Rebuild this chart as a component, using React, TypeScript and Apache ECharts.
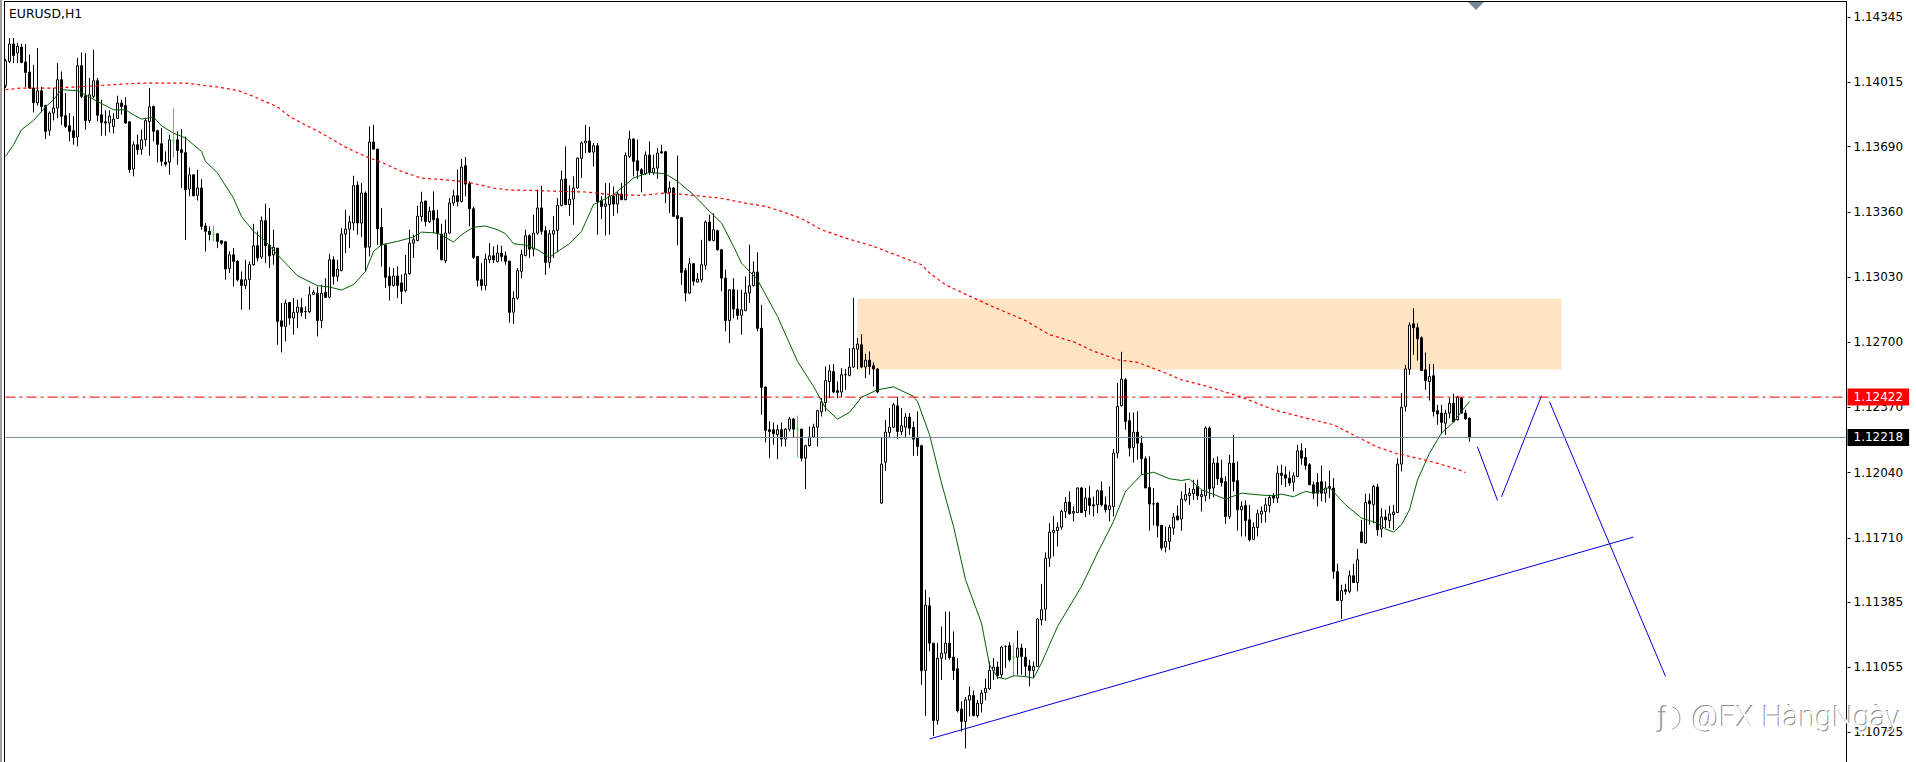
import React, { useEffect, useRef } from "react";
import * as echarts from "echarts";

// Quotes are written in points above 1.00000, as [open, close, low, high].
const barsA = [[13998,14124,13986,14133],[14121,14209,14112,14239],[14209,14151,14112,14239],[14163,14197,14112,14214],[14193,14116,14112,14210],[14118,14065,13991,14209],[14067,13986,13981,14155],[13986,13912,13863,14104],[13912,13972,13897,14188],[13972,13893,13863,13991],[13897,13767,13728,13902],[13772,13859,13745,13868],[13859,13885,13822,13986],[13885,14028,13834,14112],[14028,13843,13800,14070],[13846,13792,13784,13961],[13795,13767,13716,13859],[13770,13736,13699,13843],[13738,14099,13691,14138],[14099,13944,13935,14166],[13947,13822,13775,14163],[13822,13952,13809,14037],[13944,14023,13935,14180],[14023,13848,13817,14037],[13851,13812,13745,13927],[13815,13809,13745,13873],[13809,13844,13762,13873],[13792,13829,13755,13859],[13832,13910,13829,13947],[13910,13893,13851,13927],[13897,13809,13805,13940],[13815,13573,13556,13817],[13576,13699,13539,13716],[13699,13674,13649,13750],[13676,13724,13649,13775],[13724,13821,13691,13834],[13817,13891,13644,13986],[13893,13767,13716,13897],[13770,13701,13610,13775],[13704,13615,13593,13784],[13611,13601,13589,13665],[13611,13724,13547,13750],[13719,13719,13635,13881],[13724,13670,13598,13767],[13674,13660,13480,13778],[13659,13471,13218,13741]];
const barsB = [[13475,13547,13438,13584],[13547,13441,13438,13547],[13443,13480,13417,13573],[13480,13286,13269,13525],[13288,13261,13159,13303],[13262,13245,13215,13286],[13244,13244,13210,13289],[13249,13210,13176,13249],[13213,13201,13193,13215],[13208,13070,13016,13210],[13073,13142,13050,13159],[13142,13109,12982,13176],[13110,13016,13007,13114],[13016,12987,12864,13058],[12987,13016,12969,13117],[13016,13092,12864,13109],[13092,13188,13087,13299],[13188,13126,13109,13261],[13131,13315,13121,13336],[13315,13188,13100,13401],[13191,13137,13075,13379],[13142,13180,13092,13269],[13176,12805,12687,13176],[12808,12780,12648,12898],[12780,12898,12704,12915],[12901,12822,12788,12901],[12822,12851,12738,12923],[12851,12878,12771,12915],[12874,12851,12830,12923],[12854,12855,12817,12881],[12854,12940,12847,12982],[12942,12952,12940,12965],[12948,12810,12729,12982],[12810,12948,12771,12991],[12952,12927,12923,13024],[12928,13117,12923,13147],[13117,13033,12991,13134],[13033,13070,13007,13117],[13063,13247,13058,13277],[13247,13272,13151,13370],[13272,13308,13176,13340],[13303,13492,13266,13542],[13495,13303,13244,13514],[13303,13455,13232,13505],[13455,13180,13058,13463],[13181,13713,13134,13792]];
const barsC = [[13713,13677,13674,13800],[13677,13274,13193,13677],[13281,13193,13083,13379],[13193,13028,12974,13198],[13033,12987,12911,13080],[12987,13035,12982,13075],[13035,12987,12923,13083],[13000,12957,12894,13041],[12962,13045,12952,13142],[13046,13201,13041,13269],[13201,13218,13126,13244],[13215,13338,13210,13390],[13336,13409,13311,13461],[13414,13311,13286,13416],[13311,13363,13303,13387],[13365,13320,13252,13463],[13325,13249,13168,13370],[13247,13117,13114,13299],[13112,13252,13100,13320],[13252,13404,13249,13429],[13404,13441,13390,13471],[13441,13412,13387,13573],[13412,13586,13407,13627],[13593,13500,13438,13637],[13502,13375,13286,13514],[13375,13129,13121,13387],[13134,13013,12982,13134],[13016,12987,12962,13100],[12987,13121,12962,13148],[13117,13137,13100,13202],[13137,13117,13100,13185],[13109,13151,13104,13193],[13151,13134,13109,13188],[13137,13109,13092,13159],[13110,12851,12800,13112],[12852,12923,12792,12957],[12923,13062,12915,13075],[13058,13143,13024,13168],[13139,13239,13134,13269],[13239,13171,13126,13247],[13171,13252,13134,13345],[13252,13379,13244,13472],[13379,13261,13244,13492],[13264,13104,13041,13286],[13104,13249,13075,13269],[13247,13264,13126,13337]];
const barsD = [[13266,13392,13154,13429],[13392,13522,13387,13568],[13526,13396,13396,13691],[13396,13424,13340,13492],[13424,13480,13294,13539],[13480,13632,13475,13632],[13630,13708,13531,13716],[13708,13718,13657,13800],[13718,13662,13657,13789],[13662,13694,13590,13708],[13694,13412,13244,13708],[13416,13387,13323,13438],[13387,13399,13240,13505],[13396,13438,13244,13505],[13438,13399,13340,13488],[13399,13450,13353,13463],[13450,13421,13421,13505],[13421,13644,13418,13660],[13640,13728,13632,13770],[13728,13615,13539,13731],[13618,13569,13526,13725],[13573,13552,13458,13581],[13552,13647,13547,13665],[13647,13559,13547,13716],[13559,13581,13547,13649],[13581,13657,13526,13682],[13664,13657,13657,13699],[13664,13458,13404,13666],[13458,13480,13353,13514],[13480,13337,13333,13485],[13340,13326,13190,13644],[13330,13053,12991,13333],[13062,12949,12906,13075],[12949,13097,12945,13126],[13097,13008,12986,13100],[13004,13019,13003,13050],[13016,13092,13003,13218],[13089,13308,13067,13316],[13308,13215,13210,13345],[13215,13269,13210,13353],[13264,13168,13163,13269],[13168,13024,12957,13171],[13024,12810,12755,13067],[12810,12965,12695,12969],[12965,12868,12822,13024],[12868,12836,12814,12965]];
const barsE = [[12836,12864,12738,12965],[12861,12949,12856,13033],[12949,12986,12898,13193],[12987,13055,12982,13109],[13055,12770,12755,13154],[12771,12471,12333,12889],[12473,12254,12193,12476],[12257,12248,12113,12299],[12257,12237,12181,12294],[12232,12257,12108,12282],[12257,12210,12172,12294],[12210,12260,12172,12265],[12260,12311,12248,12321],[12311,12260,12215,12316],[12260,12260,12119,12328],[12260,12113,12097,12260],[12113,12176,11957,12181],[12176,12220,12172,12274],[12220,12270,12218,12287],[12270,12353,12172,12358],[12348,12397,12324,12417],[12395,12505,12350,12577],[12501,12555,12417,12586],[12552,12448,12442,12589],[12454,12446,12417,12501],[12448,12535,12422,12569],[12535,12536,12459,12564],[12532,12574,12527,12670],[12574,12669,12569,12923],[12665,12690,12564,12721],[12687,12574,12569,12741],[12574,12609,12518,12640],[12609,12577,12535,12653],[12581,12564,12476,12598],[12564,12448,12442,12569],[11886,12083,11882,12220],[12093,12245,12049,12307],[12243,12270,12220,12366],[12270,12383,12265,12392],[12378,12248,12209,12422],[12248,12277,12231,12366],[12270,12321,12215,12341],[12321,12265,12231,12341],[12269,12209,12125,12299],[12218,12172,12125,12350],[12176,11037,10966,12181]];
const barsF = [[11039,11369,10809,11447],[11366,11177,11135,11410],[11177,10786,10708,11177],[10786,11101,10764,11177],[11101,11126,10991,11261],[11126,11177,11093,11337],[11177,11104,11093,11337],[11106,11039,10991,11236],[11047,10835,10826,11101],[10843,10781,10730,10882],[10781,10890,10644,10904],[10889,10912,10806,10958],[10912,10811,10806,10938],[10811,10873,10801,10890],[10870,10924,10826,10941],[10927,10949,10887,10997],[10946,11039,10941,11084],[11039,11056,10991,11101],[11056,11013,10995,11084],[11017,11157,11000,11164],[11160,11161,11051,11165],[11164,11093,11084,11182],[11106,11106,11008,11177],[11106,11152,11017,11239],[11152,11110,11017,11174],[11106,11059,11008,11152],[11062,11039,10958,11093],[11039,11059,11000,11084],[11059,11299,11056,11304],[11295,11346,11266,11477],[11349,11607,11290,11636],[11607,11739,11562,11784],[11737,11747,11616,11821],[11747,11764,11666,11788],[11764,11843,11751,11852],[11843,11889,11810,11916],[11891,11832,11827,11945],[11835,11843,11793,11869],[11838,11962,11835,11965],[11962,11838,11835,11967],[11848,11911,11815,11962],[11911,11874,11827,11973],[11877,11872,11818,11919],[11877,11948,11835,11953],[11948,11877,11869,11995],[11877,11852,11838,11919]];
const barsG = [[11852,11872,11793,11970],[11869,12139,11818,12159],[12139,12375,12113,12493],[12378,12513,12375,12651],[12510,12299,12257,12518],[12302,12164,12122,12344],[12167,12245,12091,12344],[12245,12189,12105,12350],[12189,12110,12029,12226],[12110,11962,11962,12122],[11965,11881,11747,12122],[11881,11882,11773,11962],[11886,11771,11712,11889],[11773,11658,11646,11776],[11663,11692,11636,11767],[11692,11762,11649,11776],[11759,11815,11725,11835],[11821,11801,11798,11874],[11805,11906,11746,11945],[11902,11928,11894,11987],[11924,11936,11877,11962],[11933,11956,11902,12004],[11970,11923,11902,12004],[11919,11928,11843,11953],[11923,12265,11894,12274],[12265,11958,11906,12274],[11962,12088,11916,12113],[12088,12009,11978,12122],[12012,11990,11970,12105],[11994,11818,11781,12021],[11818,12088,11805,12130],[12088,11995,11945,12231],[11999,11852,11747,12096],[11852,11869,11717,11894],[11874,11798,11717,11899],[11801,11700,11692,11877],[11703,11764,11700,11788],[11762,11832,11717,11852],[11830,11845,11784,11869],[11843,11877,11788,11911],[11874,11914,11838,11928],[11923,11911,11886,11936],[11911,12037,11886,12075],[12037,12026,11978,12080],[12029,12012,11967,12071],[12012,11987,11973,12046]];
const barsH = [[11992,12024,11945,12041],[12021,12150,12017,12181],[12150,12113,12080,12189],[12117,12076,12054,12164],[12080,11978,11978,12088],[11978,11936,11906,11995],[11990,11936,11869,12037],[11994,11936,11894,12075],[11936,11962,11889,11995],[11970,11962,11911,12051],[11962,11540,11503,12012],[11540,11393,11393,11579],[11393,11442,11299,11472],[11447,11439,11422,11477],[11439,11518,11430,11545],[11518,11484,11481,11579],[11484,11599,11439,11654],[11740,11686,11683,11801],[11683,11889,11680,11933],[11897,11882,11776,11933],[11879,11970,11784,11978],[11967,11751,11720,11983],[11754,11815,11713,11860],[11815,11801,11759,11852],[11798,11831,11759,11872],[11828,11840,11750,11877],[11838,12083,11835,12113],[12083,12371,12046,12442],[12375,12565,12349,12585],[12563,12786,12535,12800],[12793,12773,12636,12872],[12773,12717,12607,12796],[12722,12557,12557,12729],[12560,12506,12459,12648],[12501,12526,12405,12590],[12530,12349,12324,12590],[12353,12337,12282,12383],[12341,12294,12236,12383],[12290,12341,12231,12358],[12341,12391,12315,12417],[12391,12297,12294,12439],[12307,12422,12304,12429],[12418,12341,12337,12422],[12341,12312,12307,12358],[12316,12218,12196,12317]];

const limeBars = [42, 52, 198, 252];

// [bar index, points]
const fastMa = [[0,13640],[2,13699],[4,13775],[7,13822],[10,13890],[12,13927],[14,13978],[18,13972],[20,13952],[24,13907],[27,13876],[30,13876],[32,13851],[34,13829],[37,13839],[39,13795],[42,13758],[45,13733],[49,13665],[50,13615],[53,13556],[57,13429],[59,13336],[62,13261],[65,13210],[68,13142],[70,13100],[73,13036],[78,12986],[81,12979],[84,12964],[87,12991],[90,13058],[92,13159],[94,13193],[98,13210],[102,13232],[104,13257],[108,13252],[112,13207],[114,13244],[117,13282],[120,13288],[123,13269],[125,13249],[127,13198],[130,13191],[133,13168],[136,13129],[138,13159],[141,13198],[144,13261],[147,13396],[152,13446],[154,13480],[157,13531],[161,13559],[165,13552],[168,13514],[172,13446],[176,13362],[179,13303],[182,13185],[184,13100],[188,13016],[193,12830],[198,12603],[202,12476],[205,12367],[208,12311],[211,12345],[214,12421],[218,12459],[222,12474],[227,12426],[228,12400],[231,12232],[234,11987],[237,11768],[240,11498],[244,11278],[246,11067],[248,11005],[250,10995],[252,11012],[255,11008],[257,11000],[259,11076],[263,11261],[269,11464],[273,11633],[277,11793],[280,11945],[284,12029],[287,12042],[291,12009],[294,12000],[296,12007],[299,11953],[305,11906],[309,11936],[314,11926],[317,11923],[319,11931],[322,11918],[325,11945],[327,11936],[331,11965],[335,11877],[339,11810],[343,11784],[345,11755],[347,11739],[349,11776],[351,11852],[353,12003],[356,12138],[359,12240],[362,12295],[364,12349],[366,12400]];
const slowMa = [[0,13978],[4,13986],[7,13986],[12,13986],[17,13991],[23,13998],[27,14003],[34,14011],[45,14011],[52,13994],[58,13974],[62,13944],[68,13890],[71,13843],[74,13809],[79,13758],[85,13687],[90,13640],[94,13610],[99,13564],[104,13530],[110,13522],[115,13510],[119,13495],[122,13480],[126,13470],[132,13468],[139,13463],[145,13460],[152,13446],[159,13443],[165,13455],[172,13443],[179,13428],[185,13404],[190,13387],[194,13362],[199,13326],[204,13269],[210,13227],[217,13185],[224,13131],[229,13092],[231,13050],[235,12991],[239,12952],[246,12887],[255,12809],[261,12738],[267,12702],[272,12655],[278,12611],[283,12598],[290,12544],[294,12510],[300,12479],[309,12422],[317,12358],[325,12316],[332,12282],[338,12220],[343,12169],[348,12135],[351,12122],[357,12093],[363,12057],[365,12040]];

const trendLine = [[231,10692],[407,11714]];
const legOne = [[368,12170],[373,11899]];
const legTwo = [[374,11917],[384,12429]];
const legThree = [[386,12399],[415,11009]];
const zone = { fromBar: 213, toBar: 389, high: 12920, low: 12562 };

const tickLabels = [1.14345, 1.14015, 1.1369, 1.1336, 1.1303, 1.127, 1.1237, 1.1204, 1.1171, 1.11385, 1.11055, 1.10725];
const levelAsk = 1.12422;
const levelBid = 1.12218;
const axisMin = 1.105755;
const axisMax = 1.144265;
const barSlots = 461;

const toPrice = (p: number) => +(1 + p / 100000).toFixed(5);
const pts = (a: number[][]) => a.map(([i, v]) => [i, toPrice(v)]);
const FONT = "DejaVu Sans";

export default function App() {
  const ref = useRef<HTMLDivElement>(null);
  useEffect(() => {
    const chart = echarts.init(ref.current!, undefined, { renderer: "svg" });
    const bars = [...barsA, ...barsB, ...barsC, ...barsD, ...barsE, ...barsF, ...barsG, ...barsH];
    const candleData = bars.map((b, i) => {
      const value = b.map(toPrice);
      return limeBars.includes(i)
        ? { value, itemStyle: { color: "#00ff00", color0: "#00ff00", borderColor: "#00ff00", borderColor0: "#00ff00" } }
        : { value };
    });
    const blue = (data: number[][]) => ({
      type: "line" as const,
      data: pts(data),
      showSymbol: false,
      silent: true,
      z: 4,
      lineStyle: { color: "#0000dd", width: 1 },
    });
    const level = (value: number, lineStyle: object, bg: string) => ({
      type: "line" as const,
      data: [[0, value], [barSlots - 1, value]],
      showSymbol: false,
      silent: true,
      clip: false,
      z: 5,
      lineStyle,
      endLabel: {
        show: true,
        formatter: value.toFixed(5),
        color: "#fff",
        backgroundColor: bg,
        fontFamily: FONT,
        fontSize: 12,
        distance: 2,
        padding: [3, 6, 2, 6],
      },
    });
    chart.setOption({
      animation: false,
      backgroundColor: "#fff",
      grid: { left: 3.5, width: 1844, top: 1, height: 761, show: false },
      title: {
        text: "EURUSD,H1",
        left: 9,
        top: 7,
        padding: 0,
        textStyle: { fontFamily: FONT, fontSize: 12.4, fontWeight: "normal", color: "#000" },
      },
      xAxis: {
        type: "category",
        data: Array.from({ length: barSlots }, (_, i) => i),
        boundaryGap: true,
        show: false,
      },
      yAxis: {
        type: "value",
        position: "right",
        min: axisMin,
        max: axisMax,
        splitLine: { show: false },
        axisLine: { show: false },
        axisTick: { show: true, length: 3, customValues: tickLabels, lineStyle: { color: "#000" } },
        axisLabel: {
          show: true,
          customValues: tickLabels,
          margin: 6,
          fontFamily: FONT,
          fontSize: 12,
          color: "#000",
          formatter: (v: number) => v.toFixed(5),
        },
      },
      series: [
        {
          type: "line",
          data: [],
          z: 1,
          silent: true,
          markArea: {
            silent: true,
            itemStyle: { color: "#ffe4c4", opacity: 1 },
            data: [[
              { xAxis: zone.fromBar, yAxis: toPrice(zone.high) },
              { xAxis: zone.toBar, yAxis: toPrice(zone.low) },
            ]],
          },
        },
        {
          type: "candlestick",
          data: candleData,
          barWidth: 2,
          z: 3,
          silent: true,
          itemStyle: { color: "#ffffff", color0: "#000000", borderColor: "#000000", borderColor0: "#000000", borderWidth: 1 },
        },
        level(levelAsk, { color: "#ee0000", type: [10, 4, 3, 4], width: 1 }, "#ff0000"),
        level(levelBid, { color: "#778899", type: "solid", width: 1 }, "#000000"),
        {
          type: "line",
          data: pts(fastMa),
          showSymbol: false,
          silent: true,
          z: 4,
          lineStyle: { color: "#006000", width: 1 },
        },
        {
          type: "line",
          data: pts(slowMa),
          showSymbol: false,
          silent: true,
          z: 4,
          lineStyle: { color: "#ff0000", width: 1.2, type: [3, 3] },
        },
        blue(trendLine),
        blue(legOne),
        blue(legTwo),
        blue(legThree),
      ],
      graphic: [
        { type: "rect", silent: true, shape: { x: 0, y: 0, width: 2, height: 762 }, style: { fill: "#a0a0a0" } },
        { type: "line", silent: true, shape: { x1: 4.5, y1: 1, x2: 4.5, y2: 762 }, style: { stroke: "#000", lineWidth: 1 } },
        { type: "line", silent: true, shape: { x1: 4, y1: 1.5, x2: 1847, y2: 1.5 }, style: { stroke: "#000", lineWidth: 1 } },
        { type: "line", silent: true, shape: { x1: 1846.5, y1: 1, x2: 1846.5, y2: 762 }, style: { stroke: "#000", lineWidth: 1 } },
        { type: "polygon", silent: true, shape: { points: [[1468, 2], [1484, 2], [1476, 10]] }, style: { fill: "#778899" } },
        { type: "text", silent: true, x: 1691, y: 700, z: 20, style: { text: "@FX HàngNgày", fontFamily: "Roboto", fontWeight: 300, fontSize: 30, fill: "#8a8a8a" } },
        { type: "text", silent: true, x: 1692, y: 701, z: 21, style: { text: "@FX HàngNgày", fontFamily: "Roboto", fontWeight: 300, fontSize: 30, fill: "#ffffff" } },
        { type: "text", silent: true, x: 1657, y: 702, z: 20, style: { text: "ƒ", fontFamily: "Roboto", fontWeight: 300, fontSize: 28, fill: "#9a9a9a" } },
        { type: "arc", silent: true, z: 20, shape: { cx: 1668, cy: 718, r: 12, startAngle: -1.2, endAngle: 1.2 }, style: { stroke: "#9a9a9a", lineWidth: 1, fill: "none" } },
      ],
    });
    return () => chart.dispose();
  }, []);
  return <div ref={ref} style={{ position: "absolute", left: 0, top: 0, width: 1916, height: 762 }} />;
}
